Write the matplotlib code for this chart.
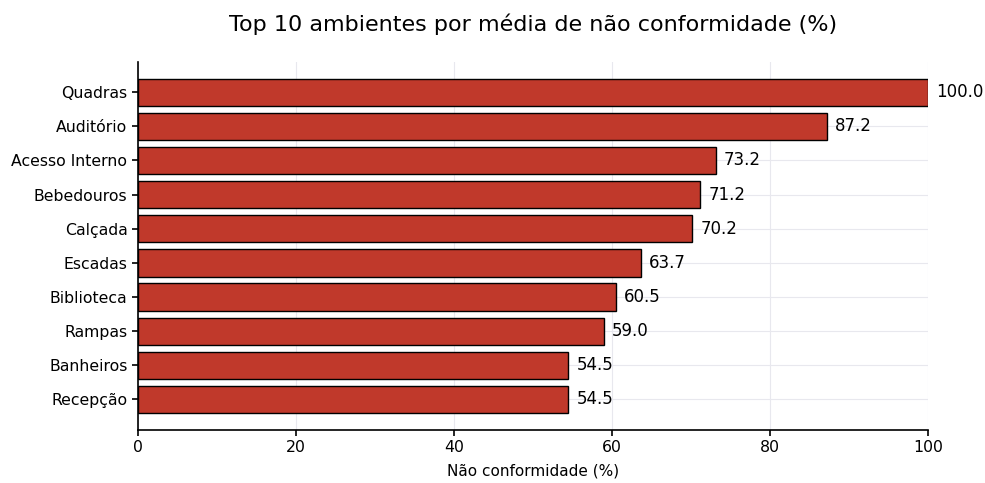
import matplotlib
matplotlib.use("Agg")
import matplotlib.pyplot as plt

categories = ["Quadras", "Auditório", "Acesso Interno", "Bebedouros", "Calçada",
              "Escadas", "Biblioteca", "Rampas", "Banheiros", "Recepção"]
values = [100.0, 87.2, 73.2, 71.2, 70.2, 63.7, 60.5, 59.0, 54.5, 54.5]

fig = plt.figure(figsize=(9.85, 4.83), dpi=100)
ax = fig.add_axes([0.140, 0.110, 0.802, 0.762])

ax.grid(True, color="#e8e8ee", linewidth=0.8)
ax.set_axisbelow(True)
bars = ax.barh(categories, values, height=0.8, color="#c0392b", edgecolor="black", linewidth=1.0)
ax.invert_yaxis()
ax.set_xlim(0, 100)
for bar, v in zip(bars, values):
    ax.text(bar.get_width() + 1, bar.get_y() + bar.get_height() / 2, f"{v:.1f}",
            va="center", ha="left", fontsize=12)

ax.spines["top"].set_visible(False)
ax.spines["right"].set_visible(False)
for s in ("left", "bottom"):
    ax.spines[s].set_linewidth(1.2)
ax.set_xlabel("Não conformidade (%)", fontsize=11, labelpad=6)
ax.set_title("Top 10 ambientes por média de não conformidade (%)", fontsize=16, pad=22)
ax.tick_params(labelsize=11.3, width=1.2, length=4)

fig.savefig("out.png", dpi=100)
